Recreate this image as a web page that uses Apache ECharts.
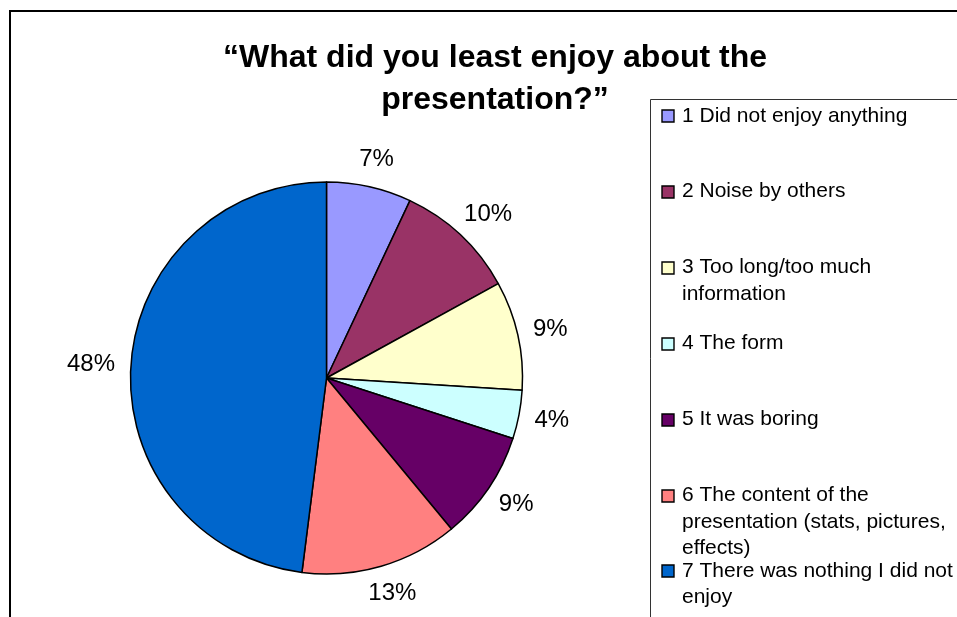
<!DOCTYPE html>
<html>
<head>
<meta charset="utf-8">
<style>
  html, body { margin: 0; padding: 0; background: #fff; }
  #chart { width: 957px; height: 617px; }
</style>
<script src="https://cdn.jsdelivr.net/npm/echarts@6/dist/echarts.min.js"></script>
</head>
<body>
<div id="chart"></div>
<script>
// Survey answers: share of respondents per option (percent)
const categories = [
  '1 Did not enjoy anything',
  '2 Noise by others',
  '3 Too long/too much information',
  '4 The form',
  '5 It was boring',
  '6 The content of the presentation (stats, pictures, effects)',
  '7 There was nothing I did not enjoy'
];
const values = [7, 10, 9, 4, 9, 13, 48];
// Legend entries as they wrap in the legend box
const legendLabels = [
  '1 Did not enjoy anything',
  '2 Noise by others',
  '3 Too long/too much\ninformation',
  '4 The form',
  '5 It was boring',
  '6 The content of the\npresentation (stats, pictures,\neffects)',
  '7 There was nothing I did not\nenjoy'
];
const colors = ['#9999FF', '#993366', '#FFFFCC', '#CCFFFF', '#660066', '#FF8080', '#0066CC'];
const titleText = '\u201CWhat did you least enjoy about the\npresentation?\u201D';

const FONT = '"Liberation Sans", Arial, Helvetica, sans-serif';
const CX = 326.5, CY = 378, RADIUS = 196;
const LABEL_R = 212;           // distance of the label's inner edge from the centre
const LEGEND_X = 650, LEGEND_Y = 99, LEGEND_STEP = 75.9, LEGEND_FIRST = 116;

// Mid angle of each slice, clockwise from 12 o'clock
const total = values.reduce((a, b) => a + b, 0);
const midAngles = [];
let acc = 0;
values.forEach(v => { midAngles.push((acc + v / 2) / total * 2 * Math.PI); acc += v; });

const chart = echarts.init(document.getElementById('chart'), null, { renderer: 'canvas' });

// Legend box built from the category list
const legendGraphics = [
  {
    type: 'rect', z: 1,
    shape: { x: LEGEND_X + 0.5, y: LEGEND_Y + 0.5, width: 500, height: 700 },
    style: { fill: '#ffffff', stroke: '#333', lineWidth: 1 }
  }
];
legendLabels.forEach((txt, i) => {
  const cy = LEGEND_FIRST + LEGEND_STEP * i;
  legendGraphics.push({
    type: 'rect', z: 2,
    shape: { x: 662, y: Math.round(cy - 6), width: 12, height: 12 },
    style: { fill: colors[i], stroke: '#000', lineWidth: 1.4 }
  });
  legendGraphics.push({
    type: 'text', z: 2,
    x: 682, y: cy - 13.5,
    style: {
      text: txt, fill: '#000', font: '21px ' + FONT,
      lineHeight: 26.5, verticalAlign: 'top', align: 'left'
    }
  });
});

chart.setOption({
  animation: false,
  backgroundColor: '#ffffff',
  title: {
    text: titleText,
    left: 490, top: 32,
    textAlign: 'center',
    textStyle: { fontFamily: FONT, fontSize: 32, fontWeight: 'bold', color: '#000', lineHeight: 42 }
  },
  graphic: [
    {
      type: 'rect', z: 0,
      shape: { x: 10, y: 11, width: 1200, height: 800 },
      style: { fill: 'none', stroke: '#000', lineWidth: 2 }
    }
  ].concat(legendGraphics),
  series: [{
    type: 'pie',
    center: [CX, CY],
    radius: RADIUS,
    startAngle: 90,
    clockwise: true,
    avoidLabelOverlap: false,
    silent: true,
    itemStyle: { borderColor: '#000', borderWidth: 1.5 },
    label: {
      show: true,
      position: 'outside',
      formatter: '{c}%',
      fontFamily: FONT, fontSize: 24, color: '#000'
    },
    labelLine: { show: false },
    labelLayout: function (p) {
      const a = midAngles[p.dataIndex];
      const ux = Math.sin(a), uy = -Math.cos(a);
      const w = p.labelRect.width, h = p.labelRect.height;
      return {
        x: CX + ux * LABEL_R + ux * w / 2,
        y: CY + uy * LABEL_R + uy * h / 2,
        align: 'center',
        verticalAlign: 'middle'
      };
    },
    data: categories.map((name, i) => ({ name: name, value: values[i], itemStyle: { color: colors[i] } }))
  }]
});
</script>
</body>
</html>
